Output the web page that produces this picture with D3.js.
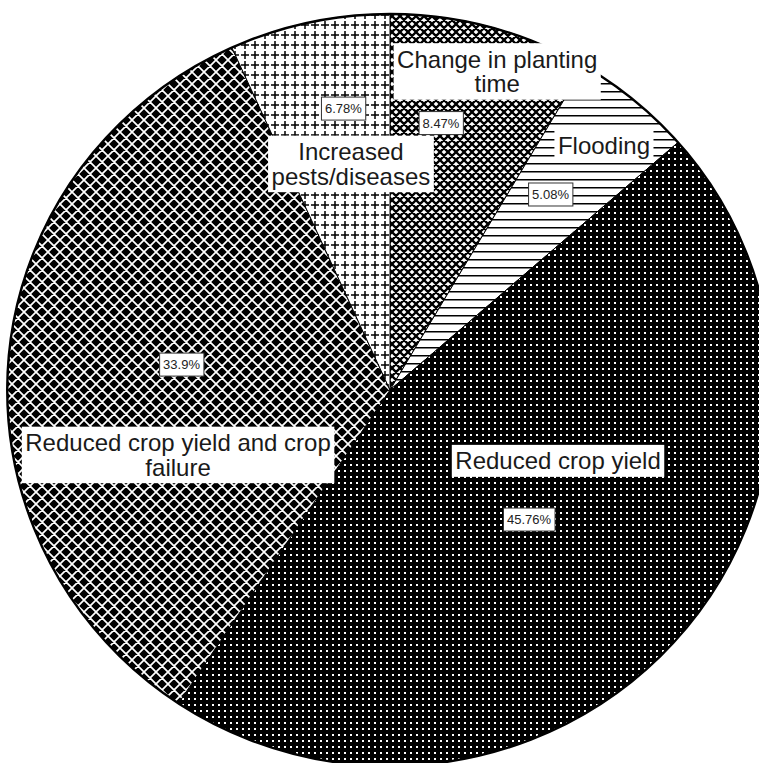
<!DOCTYPE html>
<html><head><meta charset="utf-8">
<script src="https://cdn.jsdelivr.net/npm/d3@7"></script>
<style>html,body{margin:0;padding:0;background:#fff;} svg{display:block;}</style>
</head><body>
<svg id="chart" width="759" height="763"></svg>
<script>
// ---- data ----
const categories = ["Change in planting time", "Flooding", "Reduced crop yield", "Reduced crop yield and crop failure", "Increased pests/diseases"];
const counts = [5, 3, 27, 20, 4];
const labelLines = [["Change in planting", "time"], ["Flooding"], ["Reduced crop yield"], ["Reduced crop yield and crop", "failure"], ["Increased", "pests/diseases"]];
const patternIds = ["pCross", "pHoriz", "pDots", "pDiamond", "pPlus"];

// ---- label layout (angle offset from slice mid-angle in degrees, radius px) ----
const nameLayout = [[3.35, 336], [1.59, 324.5], [-18.29, 182.4], [-21.63, 221.7], [2.4, 229.3]];
const pctLayout = [[-4.44, 271.8], [-0.28, 253], [1.78, 190], [2.39, 210], [2.8, 285.3]];

const svg = d3.select("#chart");
const cx = 390, cy = 390, R = 376, sx = 1.018;
const total = d3.sum(counts);
const fmt = d3.format(".2~f");

// ---- patterns ----
const defs = svg.append("defs");
let p = defs.append("pattern").attr("id", "pCross").attr("patternUnits", "userSpaceOnUse").attr("width", 8).attr("height", 8);
p.append("rect").attr("width", 8).attr("height", 8).attr("fill", "#fff");
p.append("path").attr("d", "M0,0L8,8M8,0L0,8M-1,7L1,9M7,-1L9,1M-1,1L1,-1M7,9L9,7").attr("stroke", "#000").attr("stroke-width", 2.3);

p = defs.append("pattern").attr("id", "pHoriz").attr("patternUnits", "userSpaceOnUse").attr("width", 8).attr("height", 8);
p.append("rect").attr("width", 8).attr("height", 8).attr("fill", "#fff");
p.append("rect").attr("y", 3).attr("width", 8).attr("height", 1.5).attr("fill", "#000");

p = defs.append("pattern").attr("id", "pDots").attr("patternUnits", "userSpaceOnUse").attr("width", 6).attr("height", 6);
p.append("rect").attr("width", 6).attr("height", 6).attr("fill", "#000");
p.append("rect").attr("x", 2).attr("y", 2).attr("width", 2).attr("height", 2).attr("fill", "#fff");

p = defs.append("pattern").attr("id", "pDiamond").attr("patternUnits", "userSpaceOnUse").attr("width", 12).attr("height", 12);
p.append("rect").attr("width", 12).attr("height", 12).attr("fill", "#000");
p.append("path").attr("d", "M0,0L12,12M12,0L0,12M-1,11L1,13M11,-1L13,1M-1,1L1,-1M11,13L13,11").attr("stroke", "#fff").attr("stroke-width", 1.7);

p = defs.append("pattern").attr("id", "pPlus").attr("patternUnits", "userSpaceOnUse").attr("width", 10).attr("height", 10);
p.append("rect").attr("width", 10).attr("height", 10).attr("fill", "#fff");
p.append("path").attr("d", "M1,5H9M5,1V9").attr("stroke", "#000").attr("stroke-width", 1.5);

// ---- context that renders d3.arc output as a slightly wide ellipse ----
function ellipseContext() {
  let s = "";
  const X = x => cx + x * sx, Y = y => cy + y;
  return {
    moveTo(x, y) { s += `M${X(x)},${Y(y)}`; },
    lineTo(x, y) { s += `L${X(x)},${Y(y)}`; },
    closePath() { s += "Z"; },
    arc(x, y, r, a0, a1, ccw) {
      if (r === 0) { s += (s ? "L" : "M") + `${X(x)},${Y(y)}`; return; }
      const x0 = x + r * Math.cos(a0), y0 = y + r * Math.sin(a0);
      const x1 = x + r * Math.cos(a1), y1 = y + r * Math.sin(a1);
      s += (s ? "L" : "M") + `${X(x0)},${Y(y0)}`;
      const da = Math.abs(a1 - a0);
      s += `A${r * sx},${r},0,${da > Math.PI ? 1 : 0},${ccw ? 0 : 1},${X(x1)},${Y(y1)}`;
    },
    toString() { return s; }
  };
}

// ---- pie ----
const pie = d3.pie().sort(null).value(d => d)(counts);
const arcGen = d3.arc().innerRadius(0).outerRadius(R);
function slicePath(d) { const c = ellipseContext(); arcGen.context(c)(d); return c.toString(); }

svg.append("g").selectAll("path.slice").data(pie).join("path")
  .attr("class", "slice")
  .attr("d", slicePath)
  .attr("fill", (d, i) => `url(#${patternIds[i]})`)
  .attr("stroke", "#000").attr("stroke-width", 1);
svg.append("ellipse").attr("cx", cx).attr("cy", cy).attr("rx", R * sx).attr("ry", R)
  .attr("fill", "none").attr("stroke", "#000").attr("stroke-width", 2.4);

// ---- labels ----
const lab = svg.append("g").attr("font-family", "'Liberation Sans', Arial, sans-serif");
function polar(d, layout) {
  const a = (d.startAngle + d.endAngle) / 2 + layout[0] * Math.PI / 180;
  return [cx + layout[1] * Math.sin(a), cy - layout[1] * Math.cos(a)];
}
pie.forEach((d, i) => {
  const [x, y] = polar(d, nameLayout[i]);
  const lines = labelLines[i];
  const lh = 24.5;
  const grp = lab.append("g");
  const rect = grp.append("rect").attr("fill", "#fff");
  const t = grp.append("text").attr("font-size", 24).attr("fill", "#1a1a1a").attr("text-anchor", "middle");
  lines.forEach((ln, k) => {
    t.append("tspan").attr("x", x).attr("y", y + (k - (lines.length - 1) / 2) * lh).attr("dy", "0.35em").text(ln);
  });
  const bb = t.node().getBBox();
  rect.attr("x", bb.x - 3.5).attr("y", bb.y - 2.5).attr("width", bb.width + 7).attr("height", bb.height + 5);

  const [px, py] = polar(d, pctLayout[i]);
  const pg = lab.append("g");
  const pr = pg.append("rect").attr("fill", "#fff").attr("stroke", "#333").attr("stroke-width", 1);
  const pt = pg.append("text").attr("x", px).attr("y", py).attr("dy", "0.35em")
    .attr("font-size", 13).attr("fill", "#222").attr("text-anchor", "middle")
    .text(fmt(d.data / total * 100) + "%");
  const pb = pt.node().getBBox();
  pr.attr("x", pb.x - 3.5).attr("y", pb.y - 4).attr("width", pb.width + 7).attr("height", pb.height + 8);
});
</script>
</body></html>
